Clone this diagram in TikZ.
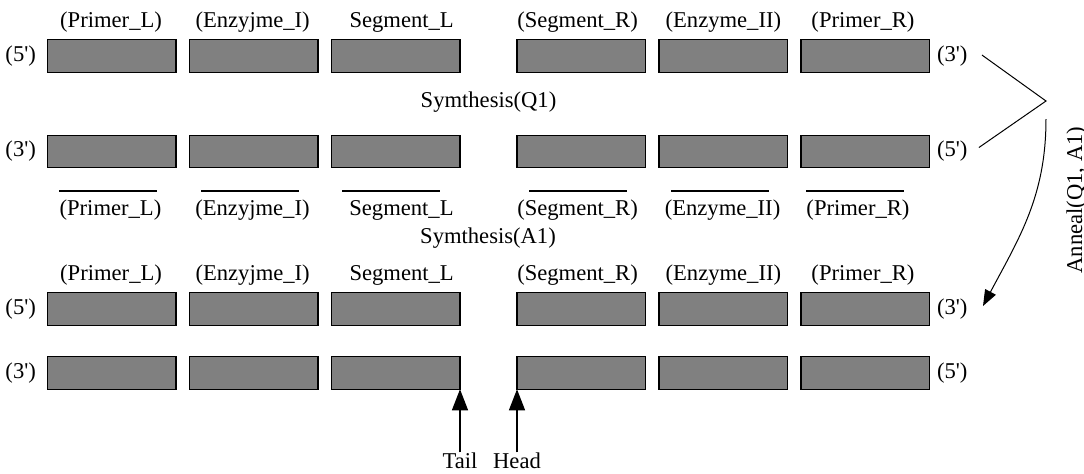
\documentclass[tikz,border=0pt]{standalone}
\usepackage{fontspec}
\setmainfont{Liberation Serif}
\usetikzlibrary{positioning,arrows.meta}

\begin{document}
\begin{tikzpicture}[
            x=0.5pt, y=-0.5pt,
            every node/.style={font=\fontsize{11.3}{13}\selectfont},
            box/.style={rectangle, draw, line width=0.6pt, fill=black!50, minimum width=64.35pt, minimum height=16.25pt, inner sep=0pt, outer sep=0pt},
            lab/.style={inner sep=0pt, text height=8pt, text depth=2.5pt},
            endlab/.style={inner sep=0pt},
            bar/.style={rectangle, fill=black, minimum width=49pt, minimum height=1.3pt, inner sep=0pt},
            bigtip/.style={-{Triangle[length=10.5pt,width=8pt]}, line width=0.6pt},
            smalltip/.style={-{Triangle[length=8pt,width=6pt]}, line width=0.5pt}
            ]
            \useasboundingbox (0,0) rectangle (1084,473);
            % row 1
            \node[box] (b11) at (111.65,56) {};
            \node[box, right=6.65pt of b11] (b12) {};
            \node[box, right=6.65pt of b12] (b13) {};
            \node[box, right=28.5pt of b13] (b14) {};
            \node[box, right=6.65pt of b14] (b15) {};
            \node[box, right=6.65pt of b15] (b16) {};
            % row 2
            \node[box] (b21) at (111.65,151.5) {};
            \node[box, right=6.65pt of b21] (b22) {};
            \node[box, right=6.65pt of b22] (b23) {};
            \node[box, right=28.5pt of b23] (b24) {};
            \node[box, right=6.65pt of b24] (b25) {};
            \node[box, right=6.65pt of b25] (b26) {};
            % row 3
            \node[box] (b31) at (111.65,309) {};
            \node[box, right=6.65pt of b31] (b32) {};
            \node[box, right=6.65pt of b32] (b33) {};
            \node[box, right=28.5pt of b33] (b34) {};
            \node[box, right=6.65pt of b34] (b35) {};
            \node[box, right=6.65pt of b35] (b36) {};
            % row 4
            \node[box] (b41) at (111.65,373) {};
            \node[box, right=6.65pt of b41] (b42) {};
            \node[box, right=6.65pt of b42] (b43) {};
            \node[box, right=28.5pt of b43] (b44) {};
            \node[box, right=6.65pt of b44] (b45) {};
            \node[box, right=6.65pt of b45] (b46) {};

            % names above row 1
            \node[lab, above=3.4pt of b11, xshift=-0.3pt] (t11) {(Primer\_L)};
            \node[lab, above=3.4pt of b12, xshift=-0.5pt] (t12) {(Enzyjme\_I)};
            \node[lab, above=3.4pt of b13, xshift=3pt] (t13) {Segment\_L};
            \node[lab, above=3.4pt of b14, xshift=-1.9pt] (t14) {(Segment\_R)};
            \node[lab, above=3.4pt of b15] (t15) {(Enzyme\_II)};
            \node[lab, above=3.4pt of b16, xshift=-1.2pt] (t16) {(Primer\_R)};
            % names above row 3
            \node[lab, above=3.4pt of b31, xshift=-0.3pt] (t31) {(Primer\_L)};
            \node[lab, above=3.4pt of b32, xshift=-0.5pt] (t32) {(Enzyjme\_I)};
            \node[lab, above=3.4pt of b33, xshift=3pt] (t33) {Segment\_L};
            \node[lab, above=3.4pt of b34, xshift=-1.9pt] (t34) {(Segment\_R)};
            \node[lab, above=3.4pt of b35] (t35) {(Enzyme\_II)};
            \node[lab, above=3.4pt of b36, xshift=-1.2pt] (t36) {(Primer\_R)};

            % primers under row 2
            \node[bar, below=10.85pt of b21, xshift=-1.8pt] (u21) {};
            \node[bar, below=10.85pt of b22, xshift=-1.8pt] (u22) {};
            \node[bar, below=10.85pt of b23, xshift=-2.1pt] (u23) {};
            \node[bar, below=10.85pt of b24, xshift=-1.7pt] (u24) {};
            \node[bar, below=10.85pt of b25, xshift=-1.7pt] (u25) {};
            \node[bar, below=10.85pt of b26, xshift=-5.2pt] (u26) {};
            \node[lab, below=15.85pt of b21, xshift=-0.6pt] (m21) {(Primer\_L)};
            \node[lab, below=15.85pt of b22, xshift=-0.6pt] (m22) {(Enzyjme\_I)};
            \node[lab, below=15.85pt of b23, xshift=2.9pt] (m23) {Segment\_L};
            \node[lab, below=15.85pt of b24, xshift=-1.9pt] (m24) {(Segment\_R)};
            \node[lab, below=15.85pt of b25, xshift=-0.4pt] (m25) {(Enzyme\_II)};
            \node[lab, below=15.85pt of b26, xshift=-3.7pt] (m26) {(Primer\_R)};

            \node[lab] (synq) at (488.5,101.5) {Symthesis(Q1)};
            \node[lab] (syna) at (488,237.5) {Symthesis(A1)};

            % strand ends
            \node[endlab, left=5.5pt of b11] (l1) {(5\textquotesingle)};
            \node[endlab, left=5.5pt of b21] (l2) {(3\textquotesingle)};
            \node[endlab, left=5.5pt of b31] (l3) {(5\textquotesingle)};
            \node[endlab, left=5.5pt of b41] (l4) {(3\textquotesingle)};
            \node[endlab, right=3.5pt of b16] (r1) {(3\textquotesingle)};
            \node[endlab, right=3.5pt of b26] (r2) {(5\textquotesingle)};
            \node[endlab, right=3.5pt of b36] (r3) {(3\textquotesingle)};
            \node[endlab, right=3.5pt of b46] (r4) {(5\textquotesingle)};

            % anneal
            \coordinate (apex) at (1046,101);
            \coordinate (bend) at (1046,119);
            \coordinate (tip) at (983,306);
            \draw[line width=0.5pt] ([shift={(7pt,0.5pt)}]r1.east) -- (apex) -- ([shift={(5.5pt,2pt)}]r2.east);
            \draw[smalltip] (bend) to[out=-90, in=62] (tip);
            \node[rotate=90, anchor=base] (anneal) at (1082,200) {Anneal(Q1, A1)};

            % tail and head
            \node[lab, text depth=0pt, below=31.5pt of b43.south east] (tail) {Tail};
            \node[lab, text depth=0pt, below=31.5pt of b44.south west] (head) {Head};
            \draw[bigtip] (tail) -- (b43.south east);
            \draw[bigtip] (head) -- (b44.south west);
        \end{tikzpicture}
\end{document}
